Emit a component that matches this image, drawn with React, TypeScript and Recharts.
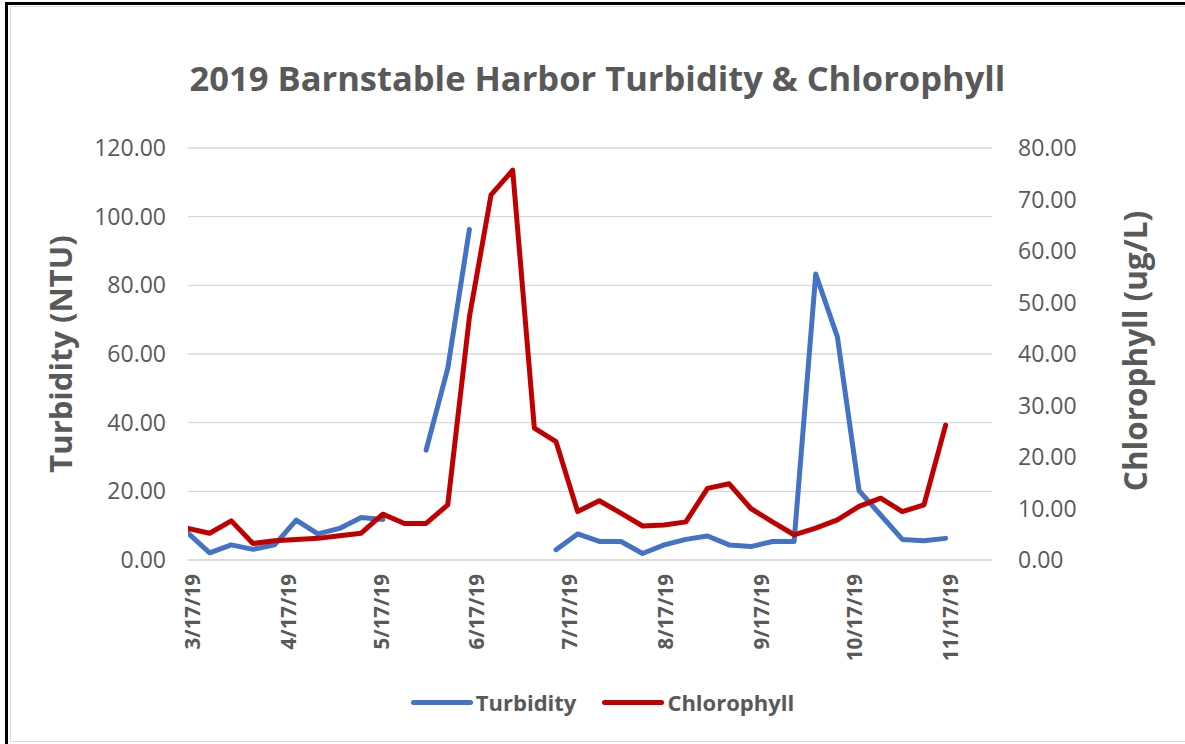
import React from 'react';
import { LineChart, Line, XAxis, YAxis, CartesianGrid, Legend } from 'recharts';

const dates = [
  '3/17/19', '3/24/19', '3/31/19', '4/7/19', '4/14/19', '4/21/19', '4/28/19', '5/5/19', '5/12/19',
  '5/19/19', '5/26/19', '6/2/19', '6/9/19', '6/16/19', '6/23/19', '6/30/19', '7/7/19', '7/14/19',
  '7/21/19', '7/28/19', '8/4/19', '8/11/19', '8/18/19', '8/25/19', '9/1/19', '9/8/19', '9/15/19',
  '9/22/19', '9/29/19', '10/6/19', '10/13/19', '10/20/19', '10/27/19', '11/3/19', '11/10/19', '11/17/19',
];

const turbidity: (number | null)[] = [
  7.8, 2.1, 4.4, 3.1, 4.4, 11.6, 7.6, 9.2, 12.4,
  11.8, null, 32.0, 55.8, 96.3, null, null, null, 3.0,
  7.6, 5.4, 5.4, 1.9, 4.4, 6.0, 7.0, 4.4, 3.9,
  5.4, 5.4, 83.3, 65.0, 20.2, 13.1, 6.0, 5.6, 6.3,
];

const chlorophyll: number[] = [
  6.15, 5.2, 7.6, 3.2, 3.75, 4.0, 4.2, 4.7, 5.2,
  8.9, 7.1, 7.1, 10.7, 47.2, 70.9, 75.7, 25.6, 23.0,
  9.4, 11.5, 9.1, 6.6, 6.8, 7.4, 13.9, 14.8, 10.0,
  7.4, 4.9, 6.2, 7.8, 10.4, 12.0, 9.4, 10.7, 26.2,
];

const xTickLabels = ['3/17/19', '4/17/19', '5/17/19', '6/17/19', '7/17/19', '8/17/19', '9/17/19', '10/17/19', '11/17/19'];
const axisEndDate = '12/2/19';
const leftTicks = [0, 20, 40, 60, 80, 100, 120];
const rightTicks = [0, 10, 20, 30, 40, 50, 60, 70, 80];

const seriesNames = ['Turbidity', 'Chlorophyll'];
const seriesColors = ['#4472C4', '#C00000'];

const FONT = "'Open Sans', 'Liberation Sans', sans-serif";
const GRAY = '#595959';

const toDay = (s: string) => {
  const [m, d, y] = s.split('/').map(Number);
  return Date.UTC(2000 + y, m - 1, d) / 86400000;
};
const dayToLabel = (n: number) => {
  const dt = new Date(Math.round(n) * 86400000);
  return `${dt.getUTCMonth() + 1}/${dt.getUTCDate()}/${String(dt.getUTCFullYear()).slice(2)}`;
};

const data = dates.map((d, i) => ({
  day: toDay(d),
  turbidity: turbidity[i],
  chlorophyll: chlorophyll[i],
}));

const XTick = (props: any) => {
  const { x, y, payload } = props;
  const cx = x + 4;
  return (
    <text
      x={cx}
      y={y}
      transform={`rotate(-90, ${cx}, ${y})`}
      textAnchor="end"
      dominantBaseline="central"
      fill={GRAY}
      fontSize={20.5}
      fontWeight={700}
      fontFamily={FONT}
    >
      {dayToLabel(payload.value)}
    </text>
  );
};

const LeftTitle = (props: any) => {
  const vb = props.viewBox || { x: 0, y: 148, width: 188, height: 412 };
  const x = vb.x + 60;
  const y = vb.y + vb.height / 2 + 0;
  return (
    <text x={x} y={y} transform={`rotate(-90, ${x}, ${y})`} textAnchor="middle" dominantBaseline="central"
      fill={GRAY} fontSize={31} fontWeight={700} fontFamily={FONT}>
      Turbidity (NTU)
    </text>
  );
};

const RightTitle = (props: any) => {
  const vb = props.viewBox || { x: 992, y: 148, width: 193, height: 412 };
  const x = vb.x + 142;
  const y = vb.y + vb.height / 2 - 3;
  return (
    <text x={x} y={y} transform={`rotate(-90, ${x}, ${y})`} textAnchor="middle" dominantBaseline="central"
      fill={GRAY} fontSize={31.5} fontWeight={700} fontFamily={FONT}>
      Chlorophyll (ug/L)
    </text>
  );
};

const LegendContent = () => (
  <div style={{ display: 'flex', justifyContent: 'center', alignItems: 'center', height: 30, fontFamily: FONT }}>
    {seriesNames.map((name, i) => (
      <div key={name} style={{ display: 'flex', alignItems: 'center', marginRight: i === 0 ? 26 : 0 }}>
        <div style={{ width: 62, height: 5, borderRadius: 3, background: seriesColors[i], marginRight: 3 }} />
        <span style={{ fontSize: 22, fontWeight: 700, color: GRAY, lineHeight: '30px' }}>{name}</span>
      </div>
    ))}
  </div>
);

export default function App() {
  return (
    <div style={{ position: 'absolute', left: 0, top: 0, width: 1185, height: 744, background: '#fff', overflow: 'hidden' }}>
      <div style={{ position: 'absolute', left: 5, top: 2, width: 1190, height: 750, borderTop: '3px solid #000', borderLeft: '3px solid #000', boxSizing: 'border-box' }} />
      <div style={{ position: 'absolute', left: 10, top: 6, width: 1190, height: 736, border: '1px solid #D9D9D9', boxSizing: 'border-box' }} />
      <div style={{ position: 'absolute', left: 0, top: 55, width: 1195, textAlign: 'center', fontFamily: FONT, fontSize: 34.5, fontWeight: 700, color: GRAY, lineHeight: '46px' }}>
        2019 Barnstable Harbor Turbidity &amp; Chlorophyll
      </div>
      <div style={{ position: 'absolute', left: 0, top: 0 }}>
        <LineChart width={1185} height={744} data={data} margin={{ top: 148, right: 0, bottom: 94, left: 0 }}>
          <CartesianGrid yAxisId="left" vertical={false} stroke="#D9D9D9" strokeWidth={1.3} />
          <XAxis
            dataKey="day"
            type="number"
            scale="linear"
            domain={[toDay(dates[0]), toDay(axisEndDate)]}
            ticks={xTickLabels.map(toDay)}
            interval={0}
            allowDataOverflow
            height={90}
            axisLine={{ stroke: '#D9D9D9', strokeWidth: 1.3 }}
            tickLine={false}
            tickSize={0}
            tickMargin={14}
            tick={<XTick />}
          />
          <YAxis
            yAxisId="left"
            orientation="left"
            width={188}
            domain={[0, 120]}
            ticks={leftTicks}
            interval={0}
            tickFormatter={(v: number) => v.toFixed(2)}
            axisLine={false}
            tickLine={false}
            tickSize={0}
            tickMargin={22}
            tick={{ fill: GRAY, fontSize: 23, fontFamily: FONT }}
            label={LeftTitle}
          />
          <YAxis
            yAxisId="right"
            orientation="right"
            width={193}
            domain={[0, 80]}
            ticks={rightTicks}
            interval={0}
            tickFormatter={(v: number) => v.toFixed(2)}
            axisLine={false}
            tickLine={false}
            tickSize={0}
            tickMargin={26}
            tick={{ fill: GRAY, fontSize: 23, fontFamily: FONT, textAnchor: 'start' }}
            label={RightTitle}
          />
          <Legend
            layout="horizontal"
            align="center"
            verticalAlign="middle"
            wrapperStyle={{ position: 'absolute', top: 687, left: 0, width: 1205, height: 30 }}
            content={LegendContent}
          />
          <Line
            yAxisId="left"
            type="linear"
            dataKey="turbidity"
            name={seriesNames[0]}
            stroke={seriesColors[0]}
            strokeWidth={5}
            strokeLinecap="round"
            strokeLinejoin="round"
            dot={false}
            activeDot={false}
            connectNulls={false}
            isAnimationActive={false}
          />
          <Line
            yAxisId="right"
            type="linear"
            dataKey="chlorophyll"
            name={seriesNames[1]}
            stroke={seriesColors[1]}
            strokeWidth={5}
            strokeLinecap="round"
            strokeLinejoin="round"
            dot={false}
            activeDot={false}
            connectNulls={false}
            isAnimationActive={false}
          />
        </LineChart>
      </div>
    </div>
  );
}
